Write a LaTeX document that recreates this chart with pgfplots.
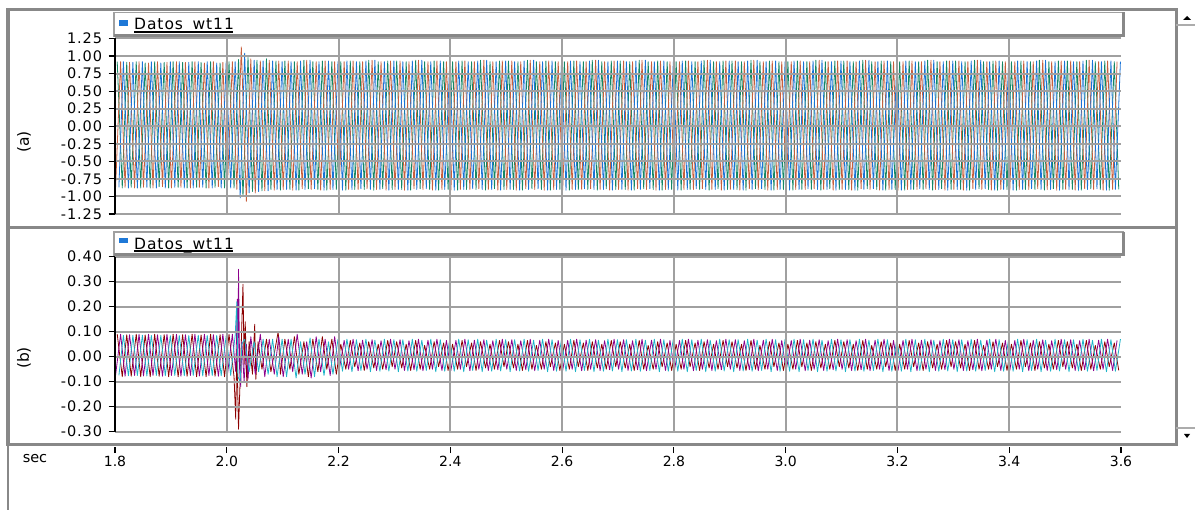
\documentclass[border=0pt]{standalone}
\usepackage{pgfplots}
\pgfplotsset{compat=1.18}
\usepackage{fontspec}
\setmainfont{DejaVu Sans}
\newfontfamily\tickfont[LetterSpace=6]{DejaVu Sans}
\definecolor{cgreen}{RGB}{20,135,100}
\definecolor{corange}{RGB}{200,95,60}
\definecolor{cblue}{RGB}{25,115,215}
\definecolor{cred}{RGB}{140,0,0}
\definecolor{cpurple}{RGB}{140,0,140}
\definecolor{ccyan}{RGB}{30,180,200}
\definecolor{gridgray}{RGB}{160,160,160}
\definecolor{framegray}{RGB}{136,136,136}
\definecolor{legblue}{RGB}{30,120,215}
\pgfplotsset{
  panel/.style={
    scale only axis, width=1006bp,
    xmin=1.8, xmax=3.6,
    axis y line*=left, axis x line*=bottom,
    x axis line style={draw=none},
    y axis line style={-, black, line width=1.5bp},
    xtick={2,2.2,2.4,2.6,2.8,3,3.2,3.4}, xticklabels={},
    xtick style={draw=none},
    ytick style={black, line width=1.2bp},
    tick align=outside, major tick length=6.5bp,
    xmajorgrids, ymajorgrids, axis on top,
    major grid style={gridgray, line width=2bp},
    /pgf/number format/assume math mode=true,
    yticklabel style={font=\tickfont\fontsize{14.5bp}{16bp}\selectfont, xshift=-3bp, /pgf/number format/.cd, fixed, fixed zerofill, precision=2},
    every axis plot/.append style={line width=0.8bp, line join=round, mark=none},
  }
}
\begin{document}
\begin{tikzpicture}
\useasboundingbox (0,0) rectangle (1195bp,510bp);
\fill[white] (0,0) rectangle (1195bp,510bp);
\begin{scope}[x=1bp,y=1bp]
\draw[framegray, line width=3bp] (8,282) rectangle (1176,500);
\draw[framegray, line width=3bp] (8,65) rectangle (1176,282);
\draw[framegray, line width=2bp] (8,65) -- (8,0);
\draw[framegray!70, line width=1.2bp] (1176,485) -- (1195,485);
\draw[framegray!70, line width=1.2bp] (1176,82) -- (1195,82);
\fill[black] (1183,490) -- (1191,490) -- (1187,494) -- cycle;
\fill[black] (1184,76) -- (1190,76) -- (1187,72) -- cycle;
% legend (a)
\draw[gridgray, line width=1.5bp] (114,474) rectangle (1123,497.5);
\draw[framegray, line width=3bp] (1123,497.5) -- (1123,474) -- (114,474);
\fill[legblue] (119,484) rectangle (128,490);
\node[anchor=base west, inner sep=0, font=\tickfont\fontsize{15.5bp}{17bp}\selectfont] at (134,480) {Datos\_wt11};
\draw[black, line width=1.2bp] (134,478) -- (233,478);
% legend (b)
\draw[gridgray, line width=1.5bp] (114,255) rectangle (1123,278);
\draw[framegray, line width=3bp] (1123,278) -- (1123,255) -- (114,255);
\fill[legblue] (119,266.7) rectangle (128,271.7);
\node[anchor=base west, inner sep=0, font=\tickfont\fontsize{15.5bp}{17bp}\selectfont] at (134,261) {Datos\_wt11};
\draw[black, line width=1.2bp] (134,259) -- (233,259);
% side labels
\node[rotate=90, font=\fontsize{15.5bp}{17bp}\selectfont] at (24,368) {(a)};
\node[rotate=90, font=\fontsize{15.5bp}{17bp}\selectfont] at (24,152) {(b)};
\node[font=\fontsize{14.5bp}{16bp}\selectfont] at (35,51) {sec};
\end{scope}

% ---------------- panel (a)
\begin{axis}[panel, at={(115bp,296bp)}, anchor=south west, height=175.5bp,
  ymin=-1.25, ymax=1.25,
  ytick={-1.25,-1,-0.75,-0.5,-0.25,0,0.25,0.5,0.75,1,1.25}]
\addplot[cgreen] coordinates {
(1.804,.92)(1.813,-.88)(1.821,.91)(1.829,-.87)(1.838,.92)(1.846,-.88)(1.854,.90)(1.863,-.88)(1.871,.92)(1.879,-.86)(1.888,.91)(1.896,-.88)
(1.904,.92)(1.913,-.87)(1.921,.91)(1.929,-.88)(1.938,.92)(1.946,-.87)(1.954,.91)(1.963,-.88)(1.971,.92)(1.979,-.87)(1.988,.90)(1.996,-.88)
(2.004,.92)(2.013,-.88)(2.021,.95)(2.029,-1.0)(2.038,.98)(2.046,-.93)(2.054,.94)(2.063,-.92)(2.071,.96)(2.079,-.9)(2.088,.93)(2.096,-.91)
(2.104,.93)(2.113,-.9)(2.121,.92)(2.129,-.91)(2.138,.94)(2.146,-.89)(2.154,.92)(2.163,-.9)(2.171,.93)(2.179,-.91)(2.188,.92)(2.196,-.9)
(2.204,.92)(2.213,-.91)(2.221,.93)(2.229,-.9)(2.238,.92)(2.246,-.9)(2.254,.94)(2.263,-.91)(2.271,.92)(2.279,-.89)(2.288,.93)(2.296,-.9)
(2.304,.93)(2.313,-.9)(2.321,.92)(2.329,-.91)(2.338,.94)(2.346,-.89)(2.354,.92)(2.363,-.9)(2.371,.93)(2.379,-.91)(2.388,.92)(2.396,-.9)
(2.404,.92)(2.413,-.91)(2.421,.93)(2.429,-.9)(2.438,.92)(2.446,-.9)(2.454,.94)(2.463,-.91)(2.471,.92)(2.479,-.89)(2.488,.93)(2.496,-.9)
(2.504,.93)(2.513,-.9)(2.521,.92)(2.529,-.91)(2.538,.94)(2.546,-.89)(2.554,.92)(2.563,-.9)(2.571,.93)(2.579,-.91)(2.588,.92)(2.596,-.9)
(2.604,.92)(2.613,-.91)(2.621,.93)(2.629,-.9)(2.638,.92)(2.646,-.9)(2.654,.94)(2.663,-.91)(2.671,.92)(2.679,-.89)(2.688,.93)(2.696,-.9)
(2.704,.93)(2.713,-.9)(2.721,.92)(2.729,-.91)(2.738,.94)(2.746,-.89)(2.754,.92)(2.763,-.9)(2.771,.93)(2.779,-.91)(2.788,.92)(2.796,-.9)
(2.804,.92)(2.813,-.91)(2.821,.93)(2.829,-.9)(2.838,.92)(2.846,-.9)(2.854,.94)(2.863,-.91)(2.871,.92)(2.879,-.89)(2.888,.93)(2.896,-.9)
(2.904,.93)(2.913,-.9)(2.921,.92)(2.929,-.91)(2.938,.94)(2.946,-.89)(2.954,.92)(2.963,-.9)(2.971,.93)(2.979,-.91)(2.988,.92)(2.996,-.9)
(3.004,.92)(3.013,-.91)(3.021,.93)(3.029,-.9)(3.038,.92)(3.046,-.9)(3.054,.94)(3.063,-.91)(3.071,.92)(3.079,-.89)(3.088,.93)(3.096,-.9)
(3.104,.93)(3.113,-.9)(3.121,.92)(3.129,-.91)(3.138,.94)(3.146,-.89)(3.154,.92)(3.163,-.9)(3.171,.93)(3.179,-.91)(3.188,.92)(3.196,-.9)
(3.204,.92)(3.213,-.91)(3.221,.93)(3.229,-.9)(3.238,.92)(3.246,-.9)(3.254,.94)(3.263,-.91)(3.271,.92)(3.279,-.89)(3.288,.93)(3.296,-.9)
(3.304,.93)(3.313,-.9)(3.321,.92)(3.329,-.91)(3.338,.94)(3.346,-.89)(3.354,.92)(3.363,-.9)(3.371,.93)(3.379,-.91)(3.388,.92)(3.396,-.9)
(3.404,.92)(3.413,-.91)(3.421,.93)(3.429,-.9)(3.438,.92)(3.446,-.9)(3.454,.94)(3.463,-.91)(3.471,.92)(3.479,-.89)(3.488,.93)(3.496,-.9)
(3.504,.93)(3.513,-.9)(3.521,.92)(3.529,-.91)(3.538,.94)(3.546,-.89)(3.554,.92)(3.563,-.9)(3.571,.93)(3.579,-.91)(3.588,.92)(3.596,-.9)
};
\addplot[corange] coordinates {
(1.801,-.88)(1.810,.92)(1.818,-.87)(1.826,.91)(1.835,-.88)(1.843,.92)(1.851,-.87)(1.860,.90)(1.868,-.88)(1.876,.92)(1.885,-.86)(1.893,.91)
(1.901,-.88)(1.910,.92)(1.918,-.87)(1.926,.91)(1.935,-.88)(1.943,.92)(1.951,-.87)(1.960,.90)(1.968,-.88)(1.976,.92)(1.985,-.86)(1.993,.91)
(2.001,-.88)(2.010,.92)(2.018,-.9)(2.026,1.13)(2.035,-1.07)(2.043,.96)(2.051,-.95)(2.060,.93)(2.068,-.92)(2.076,.94)(2.085,-.91)(2.093,.93)
(2.101,-.9)(2.110,.93)(2.118,-.91)(2.126,.92)(2.135,-.89)(2.143,.94)(2.151,-.9)(2.160,.92)(2.168,-.91)(2.176,.93)(2.185,-.9)(2.193,.92)
(2.201,-.91)(2.210,.92)(2.218,-.9)(2.226,.93)(2.235,-.9)(2.243,.92)(2.251,-.89)(2.260,.94)(2.268,-.9)(2.276,.92)(2.285,-.91)(2.293,.93)
(2.301,-.9)(2.310,.93)(2.318,-.91)(2.326,.92)(2.335,-.89)(2.343,.94)(2.351,-.9)(2.360,.92)(2.368,-.91)(2.376,.93)(2.385,-.9)(2.393,.92)
(2.401,-.91)(2.410,.92)(2.418,-.9)(2.426,.93)(2.435,-.9)(2.443,.92)(2.451,-.89)(2.460,.94)(2.468,-.9)(2.476,.92)(2.485,-.91)(2.493,.93)
(2.501,-.9)(2.510,.93)(2.518,-.91)(2.526,.92)(2.535,-.89)(2.543,.94)(2.551,-.9)(2.560,.92)(2.568,-.91)(2.576,.93)(2.585,-.9)(2.593,.92)
(2.601,-.91)(2.610,.92)(2.618,-.9)(2.626,.93)(2.635,-.9)(2.643,.92)(2.651,-.89)(2.660,.94)(2.668,-.9)(2.676,.92)(2.685,-.91)(2.693,.93)
(2.701,-.9)(2.710,.93)(2.718,-.91)(2.726,.92)(2.735,-.89)(2.743,.94)(2.751,-.9)(2.760,.92)(2.768,-.91)(2.776,.93)(2.785,-.9)(2.793,.92)
(2.801,-.91)(2.810,.92)(2.818,-.9)(2.826,.93)(2.835,-.9)(2.843,.92)(2.851,-.89)(2.860,.94)(2.868,-.9)(2.876,.92)(2.885,-.91)(2.893,.93)
(2.901,-.9)(2.910,.93)(2.918,-.91)(2.926,.92)(2.935,-.89)(2.943,.94)(2.951,-.9)(2.960,.92)(2.968,-.91)(2.976,.93)(2.985,-.9)(2.993,.92)
(3.001,-.91)(3.010,.92)(3.018,-.9)(3.026,.93)(3.035,-.9)(3.043,.92)(3.051,-.89)(3.060,.94)(3.068,-.9)(3.076,.92)(3.085,-.91)(3.093,.93)
(3.101,-.9)(3.110,.93)(3.118,-.91)(3.126,.92)(3.135,-.89)(3.143,.94)(3.151,-.9)(3.160,.92)(3.168,-.91)(3.176,.93)(3.185,-.9)(3.193,.92)
(3.201,-.91)(3.210,.92)(3.218,-.9)(3.226,.93)(3.235,-.9)(3.243,.92)(3.251,-.89)(3.260,.94)(3.268,-.9)(3.276,.92)(3.285,-.91)(3.293,.93)
(3.301,-.9)(3.310,.93)(3.318,-.91)(3.326,.92)(3.335,-.89)(3.343,.94)(3.351,-.9)(3.360,.92)(3.368,-.91)(3.376,.93)(3.385,-.9)(3.393,.92)
(3.401,-.91)(3.410,.92)(3.418,-.9)(3.426,.93)(3.435,-.9)(3.443,.92)(3.451,-.89)(3.460,.94)(3.468,-.9)(3.476,.92)(3.485,-.91)(3.493,.93)
(3.501,-.9)(3.510,.93)(3.518,-.91)(3.526,.92)(3.535,-.89)(3.543,.94)(3.551,-.9)(3.560,.92)(3.568,-.91)(3.576,.93)(3.585,-.9)(3.593,.92)
};
\addplot[cblue] coordinates {
(1.807,-.87)(1.815,.92)(1.824,-.88)(1.832,.91)(1.840,-.88)(1.849,.92)(1.857,-.87)(1.865,.92)(1.874,-.88)(1.882,.90)(1.890,-.88)(1.899,.92)
(1.907,-.87)(1.915,.92)(1.924,-.88)(1.932,.91)(1.940,-.88)(1.949,.92)(1.957,-.87)(1.965,.92)(1.974,-.88)(1.982,.90)(1.990,-.88)(1.999,.92)
(2.007,-.88)(2.015,.92)(2.024,-1.02)(2.032,1.04)(2.040,-.95)(2.049,.94)(2.057,-.93)(2.065,.93)(2.074,-.92)(2.082,.93)(2.090,-.9)(2.099,.92)
(2.107,-.9)(2.115,.92)(2.124,-.91)(2.132,.93)(2.140,-.9)(2.149,.94)(2.157,-.89)(2.165,.92)(2.174,-.91)(2.182,.93)(2.190,-.9)(2.199,.92)
(2.207,-.91)(2.215,.93)(2.224,-.9)(2.232,.92)(2.240,-.89)(2.249,.93)(2.257,-.9)(2.265,.94)(2.274,-.9)(2.282,.92)(2.290,-.91)(2.299,.93)
(2.307,-.9)(2.315,.92)(2.324,-.91)(2.332,.93)(2.340,-.9)(2.349,.94)(2.357,-.89)(2.365,.92)(2.374,-.91)(2.382,.93)(2.390,-.9)(2.399,.92)
(2.407,-.91)(2.415,.93)(2.424,-.9)(2.432,.92)(2.440,-.89)(2.449,.93)(2.457,-.9)(2.465,.94)(2.474,-.9)(2.482,.92)(2.490,-.91)(2.499,.93)
(2.507,-.9)(2.515,.92)(2.524,-.91)(2.532,.93)(2.540,-.9)(2.549,.94)(2.557,-.89)(2.565,.92)(2.574,-.91)(2.582,.93)(2.590,-.9)(2.599,.92)
(2.607,-.91)(2.615,.93)(2.624,-.9)(2.632,.92)(2.640,-.89)(2.649,.93)(2.657,-.9)(2.665,.94)(2.674,-.9)(2.682,.92)(2.690,-.91)(2.699,.93)
(2.707,-.9)(2.715,.92)(2.724,-.91)(2.732,.93)(2.740,-.9)(2.749,.94)(2.757,-.89)(2.765,.92)(2.774,-.91)(2.782,.93)(2.790,-.9)(2.799,.92)
(2.807,-.91)(2.815,.93)(2.824,-.9)(2.832,.92)(2.840,-.89)(2.849,.93)(2.857,-.9)(2.865,.94)(2.874,-.9)(2.882,.92)(2.890,-.91)(2.899,.93)
(2.907,-.9)(2.915,.92)(2.924,-.91)(2.932,.93)(2.940,-.9)(2.949,.94)(2.957,-.89)(2.965,.92)(2.974,-.91)(2.982,.93)(2.990,-.9)(2.999,.92)
(3.007,-.91)(3.015,.93)(3.024,-.9)(3.032,.92)(3.040,-.89)(3.049,.93)(3.057,-.9)(3.065,.94)(3.074,-.9)(3.082,.92)(3.090,-.91)(3.099,.93)
(3.107,-.9)(3.115,.92)(3.124,-.91)(3.132,.93)(3.140,-.9)(3.149,.94)(3.157,-.89)(3.165,.92)(3.174,-.91)(3.182,.93)(3.190,-.9)(3.199,.92)
(3.207,-.91)(3.215,.93)(3.224,-.9)(3.232,.92)(3.240,-.89)(3.249,.93)(3.257,-.9)(3.265,.94)(3.274,-.9)(3.282,.92)(3.290,-.91)(3.299,.93)
(3.307,-.9)(3.315,.92)(3.324,-.91)(3.332,.93)(3.340,-.9)(3.349,.94)(3.357,-.89)(3.365,.92)(3.374,-.91)(3.382,.93)(3.390,-.9)(3.399,.92)
(3.407,-.91)(3.415,.93)(3.424,-.9)(3.432,.92)(3.440,-.89)(3.449,.93)(3.457,-.9)(3.465,.94)(3.474,-.9)(3.482,.92)(3.490,-.91)(3.499,.93)
(3.507,-.9)(3.515,.92)(3.524,-.91)(3.532,.93)(3.540,-.9)(3.549,.94)(3.557,-.89)(3.565,.92)(3.574,-.91)(3.582,.93)(3.590,-.9)(3.599,.92)
};
\end{axis}

% ---------------- panel (b)
\begin{axis}[panel, at={(115bp,78.3bp)}, anchor=south west, height=175bp,
  ymin=-0.3, ymax=0.4,
  ytick={-0.3,-0.2,-0.1,0,0.1,0.2,0.3,0.4}]
\addplot[cred] coordinates {
(1.804,.09)(1.813,-.08)(1.821,.088)(1.829,-.078)(1.838,.09)(1.846,-.08)(1.854,.087)(1.863,-.08)(1.871,.09)(1.879,-.078)(1.888,.088)(1.896,-.08)
(1.904,.09)(1.913,-.08)(1.921,.088)(1.929,-.078)(1.938,.09)(1.946,-.08)(1.954,.087)(1.963,-.08)(1.971,.09)(1.979,-.078)(1.988,.088)(1.996,-.08)
(2.004,.09)(2.013,-.08)(2.016,-.25)(2.018,.03)(2.021,-.29)(2.025,-.02)(2.029,.29)(2.031,-.03)(2.033,.14)(2.036,-.12)(2.040,.06)(2.046,-.07)(2.050,.13)(2.052,-.09)(2.056,.06)(2.063,-.05)(2.071,.07)(2.079,-.06)(2.088,.05)(2.092,.10)(2.096,-.07)
(2.104,.07)(2.113,-.05)(2.121,.08)(2.129,-.07)(2.138,.06)(2.146,-.08)(2.154,.07)(2.163,-.06)(2.171,.08)(2.179,-.05)(2.188,.07)(2.196,-.07)
(2.204,.05)(2.213,-.05)(2.221,.065)(2.229,-.04)(2.238,.055)(2.246,-.055)(2.254,.06)(2.263,-.045)(2.271,.05)(2.279,-.05)(2.288,.065)(2.296,-.04)
(2.304,.06)(2.313,-.045)(2.321,.05)(2.329,-.055)(2.338,.065)(2.346,-.05)(2.354,.045)(2.363,-.05)(2.371,.06)(2.379,-.04)(2.388,.055)(2.396,-.055)
(2.404,.05)(2.413,-.05)(2.421,.065)(2.429,-.04)(2.438,.055)(2.446,-.055)(2.454,.06)(2.463,-.045)(2.471,.05)(2.479,-.05)(2.488,.065)(2.496,-.04)
(2.504,.06)(2.513,-.045)(2.521,.05)(2.529,-.055)(2.538,.065)(2.546,-.05)(2.554,.045)(2.563,-.05)(2.571,.06)(2.579,-.04)(2.588,.055)(2.596,-.055)
(2.604,.05)(2.613,-.05)(2.621,.065)(2.629,-.04)(2.638,.055)(2.646,-.055)(2.654,.06)(2.663,-.045)(2.671,.05)(2.679,-.05)(2.688,.065)(2.696,-.04)
(2.704,.06)(2.713,-.045)(2.721,.05)(2.729,-.055)(2.738,.065)(2.746,-.05)(2.754,.045)(2.763,-.05)(2.771,.06)(2.779,-.04)(2.788,.055)(2.796,-.055)
(2.804,.05)(2.813,-.05)(2.821,.065)(2.829,-.04)(2.838,.055)(2.846,-.055)(2.854,.06)(2.863,-.045)(2.871,.05)(2.879,-.05)(2.888,.065)(2.896,-.04)
(2.904,.06)(2.913,-.045)(2.921,.05)(2.929,-.055)(2.938,.065)(2.946,-.05)(2.954,.045)(2.963,-.05)(2.971,.06)(2.979,-.04)(2.988,.055)(2.996,-.055)
(3.004,.05)(3.013,-.05)(3.021,.065)(3.029,-.04)(3.038,.055)(3.046,-.055)(3.054,.06)(3.063,-.045)(3.071,.05)(3.079,-.05)(3.088,.065)(3.096,-.04)
(3.104,.06)(3.113,-.045)(3.121,.05)(3.129,-.055)(3.138,.065)(3.146,-.05)(3.154,.045)(3.163,-.05)(3.171,.06)(3.179,-.04)(3.188,.055)(3.196,-.055)
(3.204,.05)(3.213,-.05)(3.221,.065)(3.229,-.04)(3.238,.055)(3.246,-.055)(3.254,.06)(3.263,-.045)(3.271,.05)(3.279,-.05)(3.288,.065)(3.296,-.04)
(3.304,.06)(3.313,-.045)(3.321,.05)(3.329,-.055)(3.338,.065)(3.346,-.05)(3.354,.045)(3.363,-.05)(3.371,.06)(3.379,-.04)(3.388,.055)(3.396,-.055)
(3.404,.05)(3.413,-.05)(3.421,.065)(3.429,-.04)(3.438,.055)(3.446,-.055)(3.454,.06)(3.463,-.045)(3.471,.05)(3.479,-.05)(3.488,.065)(3.496,-.04)
(3.504,.06)(3.513,-.045)(3.521,.05)(3.529,-.055)(3.538,.065)(3.546,-.05)(3.554,.045)(3.563,-.05)(3.571,.06)(3.579,-.04)(3.588,.055)(3.596,-.055)
};
\addplot[cpurple] coordinates {
(1.801,-.075)(1.810,.09)(1.818,-.078)(1.826,.088)(1.835,-.075)(1.843,.09)(1.851,-.077)(1.860,.09)(1.868,-.075)(1.876,.088)(1.885,-.078)(1.893,.09)
(1.901,-.075)(1.910,.09)(1.918,-.078)(1.926,.088)(1.935,-.075)(1.943,.09)(1.951,-.077)(1.960,.09)(1.968,-.075)(1.976,.088)(1.985,-.078)(1.993,.09)
(2.001,-.075)(2.010,.09)(2.016,-.06)(2.019,.23)(2.020,-.02)(2.021,.35)(2.023,-.05)(2.025,-.12)(2.027,.06)(2.031,-.1)(2.035,.05)(2.038,-.09)(2.043,.08)(2.051,-.07)(2.060,.09)(2.068,-.08)(2.076,.07)(2.085,-.07)(2.093,.08)
(2.101,-.08)(2.110,.07)(2.118,-.06)(2.126,.09)(2.135,-.07)(2.143,.06)(2.151,-.085)(2.160,.08)(2.168,-.06)(2.176,.07)(2.185,-.075)(2.193,.08)
(2.201,-.055)(2.210,.065)(2.218,-.05)(2.226,.07)(2.235,-.056)(2.243,.066)(2.251,-.05)(2.260,.068)(2.268,-.055)(2.276,.064)(2.285,-.052)(2.293,.07)
(2.301,-.05)(2.310,.068)(2.318,-.055)(2.326,.064)(2.335,-.052)(2.343,.07)(2.351,-.056)(2.360,.066)(2.368,-.05)(2.376,.07)(2.385,-.055)(2.393,.065)
(2.401,-.055)(2.410,.065)(2.418,-.05)(2.426,.07)(2.435,-.056)(2.443,.066)(2.451,-.05)(2.460,.068)(2.468,-.055)(2.476,.064)(2.485,-.052)(2.493,.07)
(2.501,-.05)(2.510,.068)(2.518,-.055)(2.526,.064)(2.535,-.052)(2.543,.07)(2.551,-.056)(2.560,.066)(2.568,-.05)(2.576,.07)(2.585,-.055)(2.593,.065)
(2.601,-.055)(2.610,.065)(2.618,-.05)(2.626,.07)(2.635,-.056)(2.643,.066)(2.651,-.05)(2.660,.068)(2.668,-.055)(2.676,.064)(2.685,-.052)(2.693,.07)
(2.701,-.05)(2.710,.068)(2.718,-.055)(2.726,.064)(2.735,-.052)(2.743,.07)(2.751,-.056)(2.760,.066)(2.768,-.05)(2.776,.07)(2.785,-.055)(2.793,.065)
(2.801,-.055)(2.810,.065)(2.818,-.05)(2.826,.07)(2.835,-.056)(2.843,.066)(2.851,-.05)(2.860,.068)(2.868,-.055)(2.876,.064)(2.885,-.052)(2.893,.07)
(2.901,-.05)(2.910,.068)(2.918,-.055)(2.926,.064)(2.935,-.052)(2.943,.07)(2.951,-.056)(2.960,.066)(2.968,-.05)(2.976,.07)(2.985,-.055)(2.993,.065)
(3.001,-.055)(3.010,.065)(3.018,-.05)(3.026,.07)(3.035,-.056)(3.043,.066)(3.051,-.05)(3.060,.068)(3.068,-.055)(3.076,.064)(3.085,-.052)(3.093,.07)
(3.101,-.05)(3.110,.068)(3.118,-.055)(3.126,.064)(3.135,-.052)(3.143,.07)(3.151,-.056)(3.160,.066)(3.168,-.05)(3.176,.07)(3.185,-.055)(3.193,.065)
(3.201,-.055)(3.210,.065)(3.218,-.05)(3.226,.07)(3.235,-.056)(3.243,.066)(3.251,-.05)(3.260,.068)(3.268,-.055)(3.276,.064)(3.285,-.052)(3.293,.07)
(3.301,-.05)(3.310,.068)(3.318,-.055)(3.326,.064)(3.335,-.052)(3.343,.07)(3.351,-.056)(3.360,.066)(3.368,-.05)(3.376,.07)(3.385,-.055)(3.393,.065)
(3.401,-.055)(3.410,.065)(3.418,-.05)(3.426,.07)(3.435,-.056)(3.443,.066)(3.451,-.05)(3.460,.068)(3.468,-.055)(3.476,.064)(3.485,-.052)(3.493,.07)
(3.501,-.05)(3.510,.068)(3.518,-.055)(3.526,.064)(3.535,-.052)(3.543,.07)(3.551,-.056)(3.560,.066)(3.568,-.05)(3.576,.07)(3.585,-.055)(3.593,.065)
};
\addplot[ccyan] coordinates {
(1.807,-.075)(1.815,.085)(1.824,-.076)(1.832,.085)(1.840,-.075)(1.849,.086)(1.857,-.077)(1.865,.085)(1.874,-.075)(1.882,.085)(1.890,-.076)(1.899,.084)
(1.907,-.075)(1.915,.085)(1.924,-.076)(1.932,.085)(1.940,-.075)(1.949,.086)(1.957,-.077)(1.965,.085)(1.974,-.075)(1.982,.085)(1.990,-.076)(1.999,.084)
(2.007,-.075)(2.015,.085)(2.018,.22)(2.020,-.08)(2.024,-.1)(2.027,.05)(2.032,.07)(2.040,-.06)(2.049,.06)(2.057,-.06)(2.065,.07)(2.074,-.07)(2.082,.07)(2.090,-.08)(2.099,.07)
(2.107,-.08)(2.115,.07)(2.124,-.085)(2.132,.06)(2.140,-.07)(2.149,.075)(2.157,-.08)(2.165,.07)(2.174,-.075)(2.182,.06)(2.190,-.07)(2.199,.07)
(2.207,-.058)(2.215,.07)(2.224,-.06)(2.232,.068)(2.240,-.055)(2.249,.07)(2.257,-.06)(2.265,.066)(2.274,-.058)(2.282,.07)(2.290,-.057)(2.299,.068)
(2.307,-.06)(2.315,.068)(2.324,-.057)(2.332,.07)(2.340,-.058)(2.349,.066)(2.357,-.055)(2.365,.07)(2.374,-.06)(2.382,.068)(2.390,-.058)(2.399,.07)
(2.407,-.058)(2.415,.07)(2.424,-.06)(2.432,.068)(2.440,-.055)(2.449,.07)(2.457,-.06)(2.465,.066)(2.474,-.058)(2.482,.07)(2.490,-.057)(2.499,.068)
(2.507,-.06)(2.515,.068)(2.524,-.057)(2.532,.07)(2.540,-.058)(2.549,.066)(2.557,-.055)(2.565,.07)(2.574,-.06)(2.582,.068)(2.590,-.058)(2.599,.07)
(2.607,-.058)(2.615,.07)(2.624,-.06)(2.632,.068)(2.640,-.055)(2.649,.07)(2.657,-.06)(2.665,.066)(2.674,-.058)(2.682,.07)(2.690,-.057)(2.699,.068)
(2.707,-.06)(2.715,.068)(2.724,-.057)(2.732,.07)(2.740,-.058)(2.749,.066)(2.757,-.055)(2.765,.07)(2.774,-.06)(2.782,.068)(2.790,-.058)(2.799,.07)
(2.807,-.058)(2.815,.07)(2.824,-.06)(2.832,.068)(2.840,-.055)(2.849,.07)(2.857,-.06)(2.865,.066)(2.874,-.058)(2.882,.07)(2.890,-.057)(2.899,.068)
(2.907,-.06)(2.915,.068)(2.924,-.057)(2.932,.07)(2.940,-.058)(2.949,.066)(2.957,-.055)(2.965,.07)(2.974,-.06)(2.982,.068)(2.990,-.058)(2.999,.07)
(3.007,-.058)(3.015,.07)(3.024,-.06)(3.032,.068)(3.040,-.055)(3.049,.07)(3.057,-.06)(3.065,.066)(3.074,-.058)(3.082,.07)(3.090,-.057)(3.099,.068)
(3.107,-.06)(3.115,.068)(3.124,-.057)(3.132,.07)(3.140,-.058)(3.149,.066)(3.157,-.055)(3.165,.07)(3.174,-.06)(3.182,.068)(3.190,-.058)(3.199,.07)
(3.207,-.058)(3.215,.07)(3.224,-.06)(3.232,.068)(3.240,-.055)(3.249,.07)(3.257,-.06)(3.265,.066)(3.274,-.058)(3.282,.07)(3.290,-.057)(3.299,.068)
(3.307,-.06)(3.315,.068)(3.324,-.057)(3.332,.07)(3.340,-.058)(3.349,.066)(3.357,-.055)(3.365,.07)(3.374,-.06)(3.382,.068)(3.390,-.058)(3.399,.07)
(3.407,-.058)(3.415,.07)(3.424,-.06)(3.432,.068)(3.440,-.055)(3.449,.07)(3.457,-.06)(3.465,.066)(3.474,-.058)(3.482,.07)(3.490,-.057)(3.499,.068)
(3.507,-.06)(3.515,.068)(3.524,-.057)(3.532,.07)(3.540,-.058)(3.549,.066)(3.557,-.055)(3.565,.07)(3.574,-.06)(3.582,.068)(3.590,-.058)(3.599,.07)
};
\end{axis}

% ---------------- time axis
\begin{axis}[at={(115bp,63bp)}, anchor=south west, scale only axis,
  width=1006bp, height=1bp,
  xmin=1.8, xmax=3.6, ymin=0, ymax=1,
  axis x line*=bottom, hide y axis,
  x axis line style={draw=none},
  xtick={1.8,2,2.2,2.4,2.6,2.8,3,3.2,3.4,3.6},
  tick align=outside, major tick length=6bp,
  xtick style={black, line width=1.2bp},
  /pgf/number format/assume math mode=true,
  xticklabel style={font=\fontsize{14bp}{16bp}\selectfont, /pgf/number format/.cd, fixed, fixed zerofill, precision=1}]
\end{axis}
\end{tikzpicture}
\end{document}
